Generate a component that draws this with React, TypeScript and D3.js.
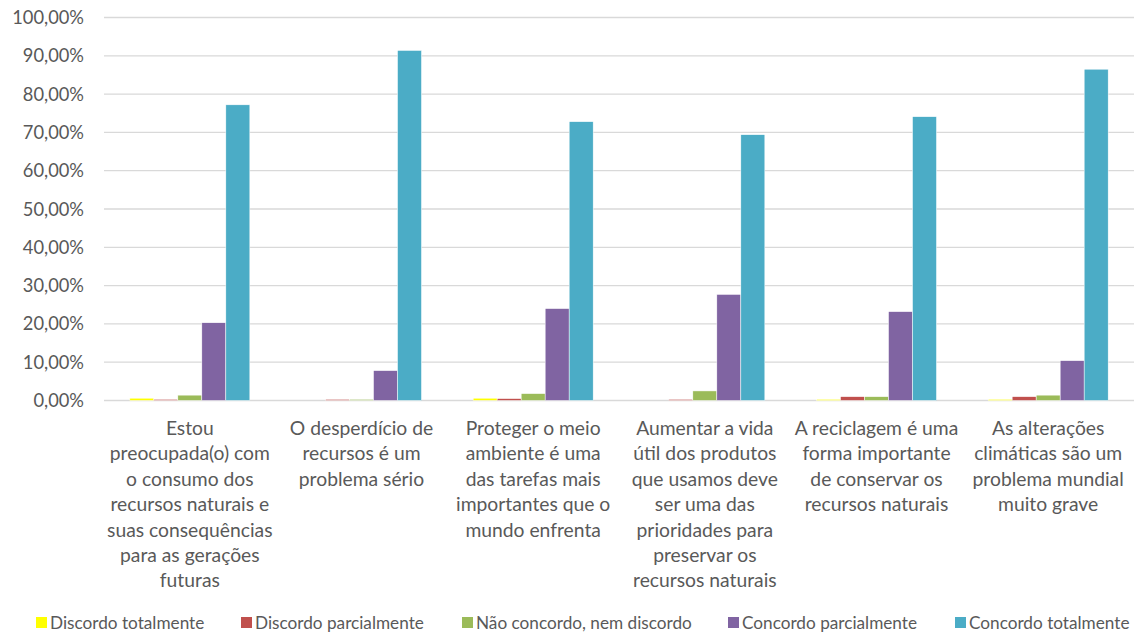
import React from "react";
import * as d3 from "d3";

const categories: string[][] = [
  ["Estou", "preocupada(o) com", "o consumo dos", "recursos naturais e", "suas consequências", "para as gerações", "futuras"],
  ["O desperdício de", "recursos é um", "problema sério"],
  ["Proteger o meio", "ambiente é uma", "das tarefas mais", "importantes que o", "mundo enfrenta"],
  ["Aumentar a vida", "útil dos produtos", "que usamos deve", "ser uma das", "prioridades para", "preservar os", "recursos naturais"],
  ["A reciclagem é uma", "forma importante", "de conservar os", "recursos naturais"],
  ["As alterações", "climáticas são um", "problema mundial", "muito grave"],
];

const seriesNames = [
  "Discordo totalmente",
  "Discordo parcialmente",
  "Não concordo, nem discordo",
  "Concordo parcialmente",
  "Concordo totalmente",
];

const seriesColors = ["#FFFF00", "#C0504D", "#9BBB59", "#8064A2", "#4BACC6"];

// Percentages per series, one value per statement
const discordoTotalmente = [0.6, 0, 0.6, 0, 0.3, 0.3];
const discordoParcialmente = [0.3, 0.3, 0.5, 0.3, 1.0, 1.0];
const naoConcordoNemDiscordo = [1.4, 0.3, 1.8, 2.5, 1.0, 1.4];
const concordoParcialmente = [20.3, 7.8, 24.0, 27.7, 23.2, 10.4];
const concordoTotalmente = [77.2, 91.4, 72.8, 69.4, 74.1, 86.5];

const seriesValues = [
  discordoTotalmente,
  discordoParcialmente,
  naoConcordoNemDiscordo,
  concordoParcialmente,
  concordoTotalmente,
];

const yTicks = [0, 10, 20, 30, 40, 50, 60, 70, 80, 90, 100];

const W = 1141;
const H = 632;
const plot = { left: 104, right: 1134, top: 17.5, bottom: 400.5 };
const font = "Lato, 'Open Sans', sans-serif";
const textColor = "#595959";
const legendX = [36, 241, 462, 728, 955];

export default function App() {
  const x = d3
    .scaleBand<number>()
    .domain(d3.range(categories.length))
    .range([plot.left, plot.right])
    .paddingInner(0)
    .paddingOuter(0);

  const inner = d3
    .scaleBand<number>()
    .domain(d3.range(seriesNames.length))
    .range([0, x.bandwidth()])
    .paddingInner(0)
    .paddingOuter(1.076);

  const y = d3.scaleLinear().domain([0, 100]).range([plot.bottom, plot.top]);
  const fmt = (v: number) => v.toFixed(2).replace(".", ",") + "%";

  return (
    <svg
      width={W}
      height={H}
      style={{ position: "absolute", left: 0, top: 0, background: "#fff" }}
      fontFamily={font}
    >
      {/* gridlines and y-axis labels */}
      {yTicks.map((t) => (
        <g key={t}>
          <line
            x1={plot.left}
            x2={plot.right}
            y1={y(t)}
            y2={y(t)}
            stroke="#d9d9d9"
            strokeWidth={1.3}
          />
          <text
            x={84}
            y={y(t)}
            dy="0.36em"
            textAnchor="end"
            fontSize={18.3}
            fill={textColor}
          >
            {fmt(t)}
          </text>
        </g>
      ))}

      {/* bars */}
      {seriesValues.map((vals, si) => (
        <g key={si} fill={seriesColors[si]} stroke="#fff" strokeWidth={0.5}>
          {vals.map((v, ci) =>
            v > 0 ? (
              <rect
                key={ci}
                x={(x(ci) as number) + (inner(si) as number)}
                y={y(v)}
                width={inner.bandwidth()}
                height={y(0) - y(v)}
              />
            ) : null
          )}
        </g>
      ))}

      {/* category labels */}
      {categories.map((lines, ci) => {
        const cx = (x(ci) as number) + x.bandwidth() / 2;
        return (
          <text key={ci} textAnchor="middle" fontSize={19.3} fill={textColor}>
            {lines.map((l, li) => (
              <tspan key={li} x={cx} y={435 + li * 25.4}>
                {l}
              </tspan>
            ))}
          </text>
        );
      })}

      {/* legend */}
      {seriesNames.map((name, si) => (
        <g key={si}>
          <rect x={legendX[si]} y={617} width={11} height={11} fill={seriesColors[si]} />
          <text x={legendX[si] + 14} y={622.5} dy="0.36em" fontSize={17.2} fill={textColor}>
            {name}
          </text>
        </g>
      ))}
    </svg>
  );
}
